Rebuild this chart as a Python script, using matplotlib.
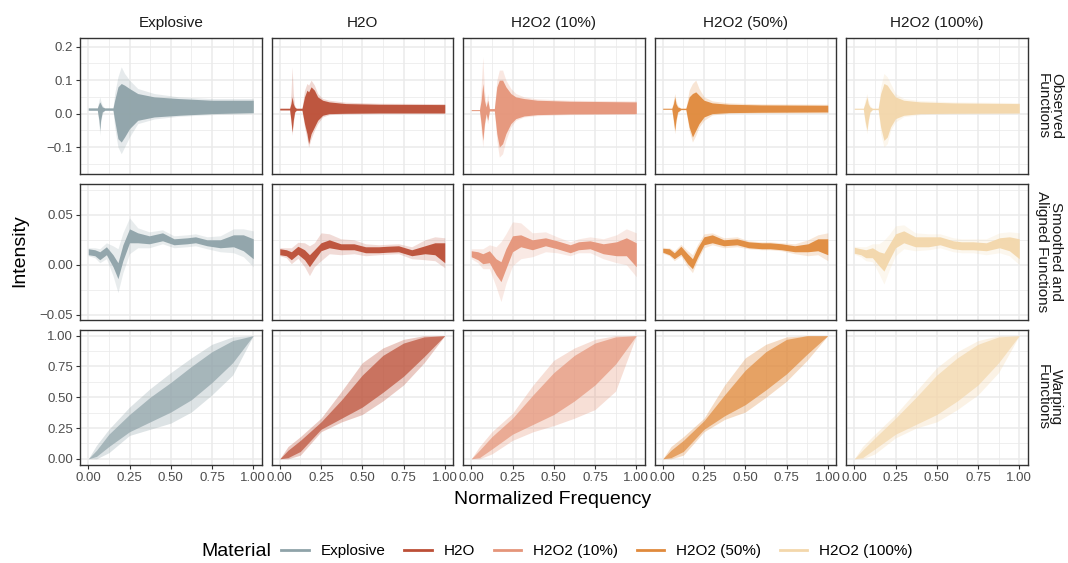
import matplotlib
matplotlib.use("Agg")
import matplotlib.pyplot as plt
from matplotlib.lines import Line2D
import numpy as np

materials = ["Explosive", "H2O", "H2O2 (10%)", "H2O2 (50%)", "H2O2 (100%)"]
colors = ["#8FA3A9", "#BC4F37", "#E5957A", "#E08A3C", "#F3D7AB"]
row_names = ["Observed\nFunctions", "Smoothed and\nAligned Functions", "Warping\nFunctions"]

# --- observed functions: envelopes (dense core + faint spread)
obs_x = [
    [0.00, 0.055, 0.065, 0.07, 0.075, 0.085, 0.10, 0.15, 0.16, 0.18, 0.20, 0.22, 0.25, 0.30, 0.40, 0.55, 0.75, 1.00],
    [0.00, 0.06, 0.068, 0.075, 0.082, 0.09, 0.10, 0.135, 0.15, 0.165, 0.175, 0.19, 0.21, 0.23, 0.26, 0.30, 0.40, 0.60, 1.00],
    [0.00, 0.05, 0.06, 0.07, 0.08, 0.09, 0.10, 0.11, 0.14, 0.155, 0.17, 0.19, 0.21, 0.24, 0.27, 0.32, 0.40, 0.60, 1.00],
    [0.00, 0.055, 0.065, 0.073, 0.08, 0.09, 0.11, 0.14, 0.16, 0.18, 0.20, 0.22, 0.25, 0.30, 0.40, 0.60, 1.00],
    [0.00, 0.055, 0.065, 0.077, 0.085, 0.095, 0.11, 0.145, 0.16, 0.18, 0.20, 0.22, 0.25, 0.30, 0.40, 0.60, 1.00],
]
obs_hi = [
    [0.017, 0.017, 0.03, 0.035, 0.03, 0.02, 0.017, 0.017, 0.04, 0.08, 0.09, 0.085, 0.075, 0.06, 0.05, 0.045, 0.04, 0.04],
    [0.016, 0.016, 0.03, 0.05, 0.03, 0.02, 0.016, 0.016, 0.05, 0.07, 0.065, 0.08, 0.07, 0.05, 0.04, 0.035, 0.03, 0.028, 0.027],
    [0.012, 0.012, 0.04, 0.09, 0.04, 0.02, 0.04, 0.015, 0.015, 0.08, 0.10, 0.10, 0.08, 0.06, 0.05, 0.045, 0.04, 0.037, 0.035],
    [0.016, 0.016, 0.03, 0.05, 0.03, 0.02, 0.016, 0.016, 0.05, 0.06, 0.065, 0.055, 0.04, 0.032, 0.028, 0.026, 0.025],
    [0.016, 0.016, 0.03, 0.05, 0.03, 0.02, 0.016, 0.016, 0.06, 0.09, 0.085, 0.07, 0.05, 0.04, 0.035, 0.032, 0.03],
]
obs_lo = [
    [0.010, 0.010, -0.02, -0.05, -0.02, 0.005, 0.010, 0.010, -0.02, -0.075, -0.085, -0.07, -0.045, -0.02, -0.01, -0.005, 0.0, 0.003],
    [0.011, 0.011, -0.02, -0.055, -0.02, 0.005, 0.010, 0.010, -0.03, -0.06, -0.09, -0.06, -0.04, -0.02, -0.005, 0.0, 0.001, 0.002, 0.002],
    [0.009, 0.009, -0.03, -0.08, -0.03, 0.0, -0.02, 0.008, 0.008, -0.06, -0.10, -0.09, -0.06, -0.03, -0.015, -0.007, -0.003, -0.001, 0.0],
    [0.013, 0.013, -0.02, -0.05, -0.02, 0.005, 0.012, 0.012, -0.04, -0.07, -0.05, -0.03, -0.01, 0.0, 0.003, 0.004, 0.005],
    [0.013, 0.013, -0.02, -0.05, -0.02, 0.005, 0.012, 0.012, -0.04, -0.08, -0.07, -0.04, -0.015, -0.005, 0.0, 0.001, 0.002],
]
obs_faint_hi = [
    [0.017, 0.017, 0.04, 0.05, 0.04, 0.025, 0.017, 0.017, 0.06, 0.11, 0.14, 0.12, 0.10, 0.075, 0.06, 0.05, 0.045, 0.045],
    [0.016, 0.016, 0.06, 0.14, 0.06, 0.025, 0.016, 0.016, 0.07, 0.09, 0.085, 0.10, 0.085, 0.06, 0.045, 0.04, 0.034, 0.031, 0.03],
    [0.012, 0.012, 0.08, 0.17, 0.07, 0.03, 0.06, 0.015, 0.015, 0.10, 0.13, 0.13, 0.10, 0.075, 0.06, 0.05, 0.044, 0.04, 0.038],
    [0.016, 0.016, 0.04, 0.06, 0.04, 0.025, 0.016, 0.016, 0.07, 0.09, 0.10, 0.075, 0.05, 0.038, 0.032, 0.029, 0.028],
    [0.016, 0.016, 0.04, 0.06, 0.04, 0.025, 0.016, 0.016, 0.08, 0.12, 0.11, 0.09, 0.06, 0.045, 0.039, 0.035, 0.033],
]
obs_faint_lo = [
    [0.010, 0.010, -0.03, -0.065, -0.03, 0.0, 0.010, 0.010, -0.04, -0.10, -0.12, -0.10, -0.07, -0.03, -0.016, -0.008, -0.003, 0.0],
    [0.011, 0.011, -0.03, -0.065, -0.03, 0.0, 0.010, 0.010, -0.04, -0.075, -0.10, -0.075, -0.05, -0.03, -0.01, -0.003, -0.001, 0.0, 0.0],
    [0.009, 0.009, -0.05, -0.10, -0.04, -0.01, -0.03, 0.008, 0.008, -0.08, -0.13, -0.12, -0.08, -0.04, -0.02, -0.01, -0.006, -0.003, -0.002],
    [0.013, 0.013, -0.03, -0.06, -0.03, 0.0, 0.012, 0.012, -0.05, -0.085, -0.065, -0.04, -0.02, -0.004, 0.001, 0.002, 0.002],
    [0.013, 0.013, -0.03, -0.06, -0.03, 0.0, 0.012, 0.012, -0.06, -0.10, -0.09, -0.05, -0.025, -0.009, -0.003, -0.001, 0.0],
]

# --- smoothed and aligned functions: centre curve and half widths
sm_x = [0.00, 0.04, 0.07, 0.11, 0.15, 0.18, 0.21, 0.25, 0.30, 0.37, 0.45, 0.52, 0.60, 0.65, 0.72, 0.80, 0.88, 0.94, 1.00]
sm_mid = [
    [0.013, 0.012, 0.009, 0.014, 0.004, -0.006, 0.012, 0.029, 0.027, 0.025, 0.028, 0.023, 0.024, 0.025, 0.022, 0.021, 0.024, 0.022, 0.016],
    [0.013, 0.012, 0.009, 0.0145, 0.010, 0.004, 0.010, 0.018, 0.021, 0.018, 0.018, 0.015, 0.015, 0.0155, 0.016, 0.012, 0.015, 0.016, 0.012],
    [0.011, 0.009, 0.006, 0.008, -0.002, -0.007, 0.006, 0.021, 0.024, 0.020, 0.023, 0.020, 0.016, 0.019, 0.020, 0.016, 0.016, 0.018, 0.010],
    [0.0145, 0.013, 0.009, 0.0145, 0.006, 0.001, 0.012, 0.024, 0.026, 0.022, 0.023, 0.020, 0.019, 0.019, 0.018, 0.016, 0.017, 0.020, 0.018],
    [0.0145, 0.013, 0.011, 0.012, 0.006, 0.0026, 0.012, 0.024, 0.028, 0.023, 0.023, 0.024, 0.020, 0.019, 0.019, 0.018, 0.022, 0.021, 0.016],
]
sm_core = [
    [0.003, 0.003, 0.004, 0.004, 0.006, 0.008, 0.008, 0.007, 0.005, 0.004, 0.004, 0.003, 0.003, 0.003, 0.003, 0.004, 0.006, 0.008, 0.010],
    [0.003, 0.003, 0.004, 0.004, 0.005, 0.006, 0.005, 0.004, 0.004, 0.003, 0.003, 0.003, 0.003, 0.003, 0.003, 0.003, 0.004, 0.006, 0.010],
    [0.003, 0.004, 0.005, 0.006, 0.008, 0.010, 0.010, 0.008, 0.006, 0.005, 0.004, 0.004, 0.004, 0.004, 0.004, 0.005, 0.007, 0.009, 0.012],
    [0.002, 0.003, 0.003, 0.004, 0.005, 0.005, 0.005, 0.004, 0.004, 0.003, 0.003, 0.003, 0.003, 0.003, 0.003, 0.003, 0.004, 0.006, 0.008],
    [0.003, 0.003, 0.004, 0.005, 0.007, 0.009, 0.008, 0.007, 0.006, 0.005, 0.005, 0.004, 0.004, 0.004, 0.004, 0.004, 0.005, 0.007, 0.010],
]
sm_faint = [
    [0.004, 0.005, 0.007, 0.008, 0.015, 0.022, 0.020, 0.018, 0.010, 0.008, 0.007, 0.006, 0.006, 0.006, 0.006, 0.008, 0.012, 0.014, 0.018],
    [0.004, 0.005, 0.008, 0.008, 0.012, 0.015, 0.012, 0.014, 0.010, 0.008, 0.007, 0.006, 0.005, 0.005, 0.005, 0.006, 0.010, 0.012, 0.015],
    [0.005, 0.007, 0.010, 0.012, 0.020, 0.030, 0.025, 0.022, 0.018, 0.012, 0.010, 0.008, 0.007, 0.007, 0.008, 0.010, 0.014, 0.018, 0.022],
    [0.003, 0.004, 0.005, 0.006, 0.008, 0.009, 0.008, 0.007, 0.006, 0.005, 0.005, 0.004, 0.004, 0.004, 0.004, 0.005, 0.008, 0.010, 0.014],
    [0.004, 0.005, 0.007, 0.009, 0.015, 0.022, 0.018, 0.015, 0.012, 0.009, 0.008, 0.007, 0.007, 0.007, 0.007, 0.008, 0.010, 0.012, 0.016],
]

# --- warping functions: spread of the curves
wp_x = [0.0, 0.05, 0.125, 0.25, 0.375, 0.5, 0.625, 0.75, 0.875, 1.0]
wp_faint_hi = [
    [0, 0.11, 0.24, 0.42, 0.57, 0.70, 0.82, 0.93, 0.99, 1],
    [0, 0.10, 0.18, 0.33, 0.55, 0.78, 0.90, 0.97, 1.00, 1],
    [0, 0.10, 0.22, 0.37, 0.60, 0.80, 0.90, 0.97, 1.00, 1],
    [0, 0.10, 0.18, 0.33, 0.60, 0.82, 0.93, 0.99, 1.00, 1],
    [0, 0.10, 0.20, 0.36, 0.55, 0.74, 0.87, 0.96, 1.00, 1],
]
wp_faint_lo = [
    [0, 0.0, 0.05, 0.19, 0.24, 0.29, 0.38, 0.52, 0.68, 1],
    [0, 0.0, 0.03, 0.22, 0.30, 0.36, 0.47, 0.60, 0.78, 1],
    [0, 0.0, 0.04, 0.15, 0.22, 0.27, 0.33, 0.40, 0.55, 1],
    [0, 0.0, 0.03, 0.22, 0.32, 0.38, 0.50, 0.63, 0.80, 1],
    [0, 0.0, 0.04, 0.17, 0.25, 0.30, 0.40, 0.52, 0.70, 1],
]
wp_core_hi = [
    [0, 0.07, 0.20, 0.36, 0.50, 0.62, 0.75, 0.87, 0.96, 1],
    [0, 0.07, 0.15, 0.30, 0.48, 0.68, 0.84, 0.94, 0.99, 1],
    [0, 0.07, 0.18, 0.33, 0.52, 0.70, 0.84, 0.94, 0.99, 1],
    [0, 0.07, 0.15, 0.31, 0.52, 0.72, 0.87, 0.97, 1.00, 1],
    [0, 0.07, 0.17, 0.33, 0.50, 0.68, 0.82, 0.93, 0.99, 1],
]
wp_core_lo = [
    [0, 0.02, 0.10, 0.22, 0.30, 0.38, 0.48, 0.62, 0.78, 1],
    [0, 0.01, 0.06, 0.24, 0.33, 0.42, 0.54, 0.67, 0.83, 1],
    [0, 0.01, 0.08, 0.20, 0.28, 0.36, 0.47, 0.60, 0.77, 1],
    [0, 0.01, 0.06, 0.24, 0.35, 0.44, 0.56, 0.69, 0.85, 1],
    [0, 0.01, 0.08, 0.20, 0.28, 0.36, 0.47, 0.60, 0.78, 1],
]

row_ylim = [(-0.179, 0.226), (-0.055, 0.081), (-0.05, 1.05)]
row_major = [[-0.1, 0.0, 0.1, 0.2], [-0.05, 0.0, 0.05], [0, 0.25, 0.5, 0.75, 1.0]]
row_minor = [[-0.15, -0.05, 0.05, 0.15], [-0.025, 0.025, 0.075], [0.125, 0.375, 0.625, 0.875]]
row_fmt = ["{:.1f}", "{:.2f}", "{:.2f}"]
x_major = [0, 0.25, 0.5, 0.75, 1.0]
x_minor = [0.125, 0.375, 0.625, 0.875]

W, H = 1068, 563
fig = plt.figure(figsize=(W / 100, H / 100), dpi=100)
plt.rcParams['font.family'] = ['Liberation Sans', 'DejaVu Sans']

lefts = [80 + i * 191.5 for i in range(5)]
tops = [38, 184, 329.5]
pw, ph = 181.5, 135.5

for r in range(3):
    for c in range(5):
        ax = fig.add_axes([lefts[c] / W, 1 - (tops[r] + ph) / H, pw / W, ph / H])
        col = colors[c]
        if r == 0:
            ax.fill_between(obs_x[c], obs_faint_lo[c], obs_faint_hi[c], color=col, alpha=0.22, lw=0)
            ax.fill_between(obs_x[c], obs_lo[c], obs_hi[c], color=col, alpha=0.95, lw=0)
        elif r == 1:
            mid = np.array(sm_mid[c])
            ax.fill_between(sm_x, mid - np.array(sm_faint[c]), mid + np.array(sm_faint[c]),
                            color=col, alpha=0.2, lw=0)
            ax.fill_between(sm_x, mid - np.array(sm_core[c]), mid + np.array(sm_core[c]),
                            color=col, alpha=0.95, lw=0)
        else:
            ax.fill_between(wp_x, wp_faint_lo[c], wp_faint_hi[c], color=col, alpha=0.3, lw=0)
            ax.fill_between(wp_x, wp_core_lo[c], wp_core_hi[c], color=col, alpha=0.7, lw=0)

        ax.set_xlim(-0.05, 1.05)
        ax.set_ylim(*row_ylim[r])
        ax.set_xticks(x_major)
        ax.set_xticks(x_minor, minor=True)
        ax.set_yticks(row_major[r])
        ax.set_yticks(row_minor[r], minor=True)
        ax.grid(True, which='major', color='#EBEBEB', lw=1.1)
        ax.grid(True, which='minor', color='#EBEBEB', lw=0.55)
        ax.set_axisbelow(True)
        for s in ax.spines.values():
            s.set_color('#333333')
            s.set_linewidth(1.0)
        ax.tick_params(which='minor', length=0)
        ax.tick_params(which='major', length=3, width=0.8, color='#333333',
                       labelsize=9.5, labelcolor='#4D4D4D', pad=2)
        if c == 0:
            ax.set_yticklabels([row_fmt[r].format(v).replace('-', '\u2212') for v in row_major[r]])
        else:
            ax.tick_params(axis='y', length=0, labelleft=False)
        if r == 2:
            ax.set_xticklabels(["{:.2f}".format(v) for v in x_major])
        else:
            ax.tick_params(axis='x', length=0, labelbottom=False)
        if r == 0:
            ax.set_title(materials[c], fontsize=11, color='#1A1A1A', pad=8)
        if c == 4:
            ax.text(1.12, 0.5, row_names[r], transform=ax.transAxes, rotation=-90,
                    ha='center', va='center', fontsize=11, color='#1A1A1A',
                    linespacing=1.0)

fig.text(20 / W, 1 - 251 / H, "Intensity", rotation=90, ha='center', va='center', fontsize=14)
fig.text(553 / W, 1 - 500 / H, "Normalized Frequency", ha='center', va='center', fontsize=14)

handles = [Line2D([], [], color=col, lw=2) for col in colors]
fig.text(236 / W, 1 - 551 / H, "Material", ha='center', va='center', fontsize=14)
fig.legend(handles, materials, ncol=5, loc='center', bbox_to_anchor=(597 / W, 1 - 551 / H),
           frameon=False, fontsize=11, handlelength=1.8, handletextpad=0.8,
           columnspacing=1.2)

fig.savefig("out.png", dpi=100)
